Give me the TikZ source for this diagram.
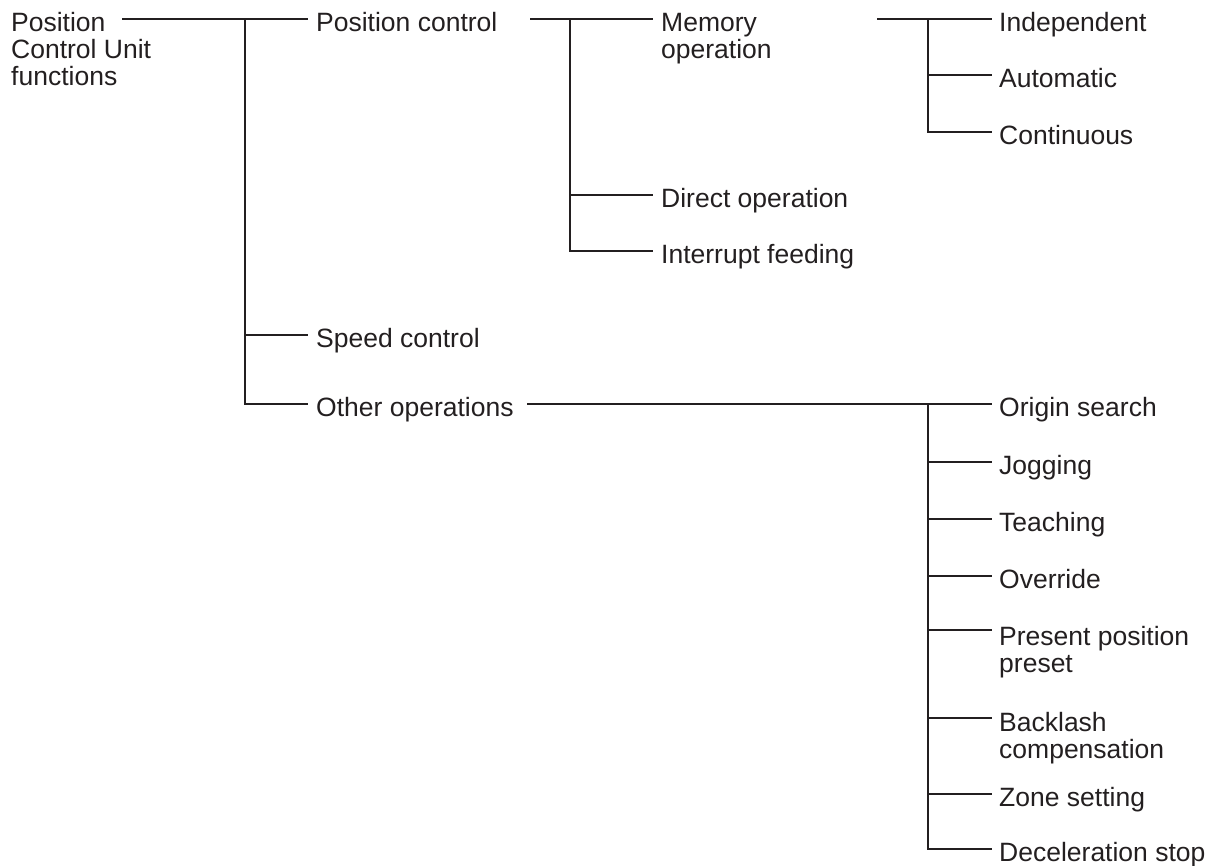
\documentclass[tikz,border=0pt]{standalone}
\usepackage{fontspec}
\setmainfont{Liberation Sans}
\definecolor{ink}{HTML}{231F20}
\begin{document}
\begin{tikzpicture}[x=1pt,y=-1pt,
  lbl/.style={anchor=base west,inner sep=0pt,align=left,text=ink,
    font=\fontsize{26.5}{27}\selectfont},
  conn/.style={draw=ink,line width=1.2pt}]
\useasboundingbox (0,0) rectangle (1210,866);
% junction / end coordinates
\coordinate (rootOut) at (122,19);
\coordinate (j1) at (245,19);
\coordinate (pcIn) at (308,19);
\coordinate (scIn) at (308,335);
\coordinate (ooIn) at (308,404);
\coordinate (pcOut) at (530,19);
\coordinate (j2) at (570,19);
\coordinate (memIn) at (653,19);
\coordinate (dirIn) at (653,195);
\coordinate (intIn) at (653,251);
\coordinate (memOut) at (877,19);
\coordinate (j3) at (928,19);
\coordinate (indIn) at (992,19);
\coordinate (autIn) at (992,75);
\coordinate (conIn) at (992,132);
\coordinate (ooOut) at (527,404);
\coordinate (j4) at (928,404);
\coordinate (origIn) at (992,404);
\coordinate (jogIn) at (992,462);
\coordinate (teaIn) at (992,519);
\coordinate (ovrIn) at (992,576);
\coordinate (preIn) at (992,630);
\coordinate (bckIn) at (992,718);
\coordinate (zonIn) at (992,794);
\coordinate (decIn) at (992,849);
% nodes (base anchor = baseline of last line)
\node[lbl] (root) at (11,86) {Position\\Control Unit\\functions};
\node[lbl] (pc) at ([xshift=8pt,yshift=-12.5pt]pcIn) {Position control};
\node[lbl] (sc) at ([xshift=8pt,yshift=-12.5pt]scIn) {Speed control};
\node[lbl] (oo) at ([xshift=8pt,yshift=-12.5pt]ooIn) {Other operations};
\node[lbl] (mem) at ([xshift=8pt,yshift=-40pt]memIn) {Memory\\operation};
\node[lbl] (dir) at ([xshift=8pt,yshift=-12.5pt]dirIn) {Direct operation};
\node[lbl] (int) at ([xshift=8pt,yshift=-12.5pt]intIn) {Interrupt feeding};
\node[lbl] (ind) at ([xshift=7pt,yshift=-12.5pt]indIn) {Independent};
\node[lbl] (aut) at ([xshift=7pt,yshift=-12.5pt]autIn) {Automatic};
\node[lbl] (con) at ([xshift=7pt,yshift=-12.5pt]conIn) {Continuous};
\node[lbl] (orig) at ([xshift=7pt,yshift=-12.5pt]origIn) {Origin search};
\node[lbl] (jog) at ([xshift=7pt,yshift=-12.5pt]jogIn) {Jogging};
\node[lbl] (tea) at ([xshift=7pt,yshift=-12.5pt]teaIn) {Teaching};
\node[lbl] (ovr) at ([xshift=7pt,yshift=-12.5pt]ovrIn) {Override};
\node[lbl] (pre) at ([xshift=7pt,yshift=-42pt]preIn) {Present position\\preset};
\node[lbl] (bck) at ([xshift=7pt,yshift=-40pt]bckIn) {Backlash\\compensation};
\node[lbl] (zon) at ([xshift=7pt,yshift=-12.5pt]zonIn) {Zone setting};
\node[lbl] (dec) at ([xshift=7pt,yshift=-12.5pt]decIn) {Deceleration stop};
% connectors
\draw[conn] (rootOut) -- (pcIn);
\draw[conn] (j1) |- (scIn);
\draw[conn] (j1) |- (ooIn);
\draw[conn] (pcOut) -- (memIn);
\draw[conn] (j2) |- (dirIn);
\draw[conn] (j2) |- (intIn);
\draw[conn] (memOut) -- (indIn);
\draw[conn] (j3) |- (autIn);
\draw[conn] (j3) |- (conIn);
\draw[conn] (ooOut) -- (origIn);
\foreach \t in {jogIn,teaIn,ovrIn,preIn,bckIn,zonIn}{\draw[conn] (j4) |- (\t);}
\draw[conn] (j4) |- (decIn);
\end{tikzpicture}
\end{document}
